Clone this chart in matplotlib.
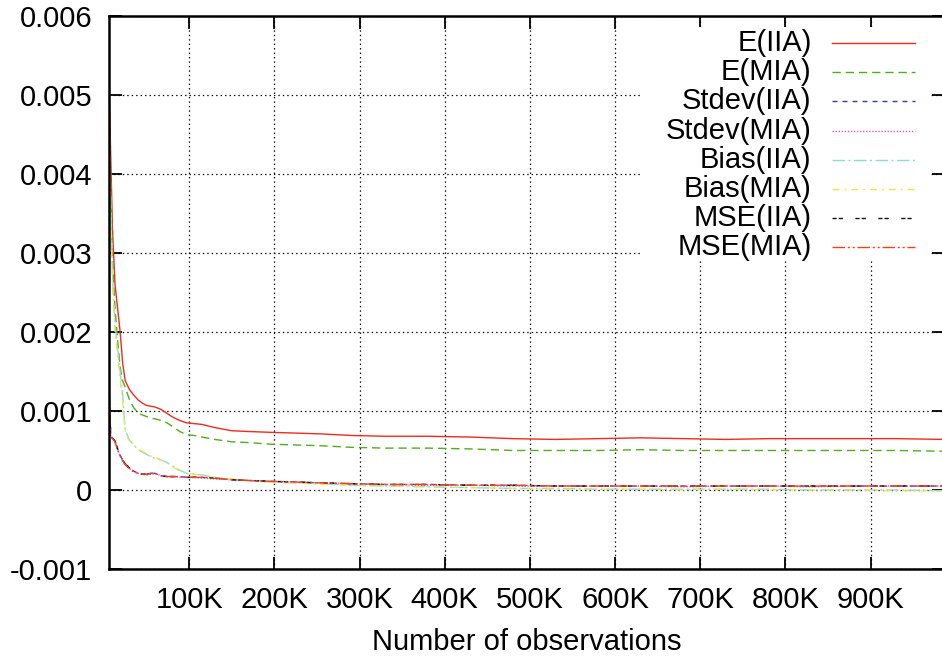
import matplotlib
matplotlib.use("Agg")
import matplotlib.pyplot as plt
from matplotlib.patches import Rectangle
from matplotlib.lines import Line2D

plt.rcParams['font.family'] = ['Liberation Sans', 'DejaVu Sans']
plt.rcParams['lines.scale_dashes'] = False

# number of observations (thousands)
obs_k = [6, 8, 10, 13, 16, 19, 22, 25, 30, 35, 40, 45, 50, 55, 60, 67, 74, 81, 89, 97,
         106, 115, 130, 150, 170, 195, 225, 255, 290, 330, 380, 430, 480, 530, 580,
         630, 680, 730, 780, 830, 880, 930, 986]

e_iia = [0.0051, 0.0042, 0.0033, 0.0026, 0.0023, 0.0020, 0.0016, 0.00138, 0.00127, 0.0012,
         0.00114, 0.0011, 0.00107, 0.00106, 0.00105, 0.00102, 0.00097, 0.00092, 0.00088, 0.00085,
         0.00084, 0.00083, 0.00079, 0.00075, 0.00074, 0.00073, 0.00072, 0.00071, 0.00069, 0.00068,
         0.00068, 0.00067, 0.00065, 0.00064, 0.00065, 0.00066, 0.00065, 0.00064, 0.00065, 0.00065,
         0.00065, 0.00065, 0.00064]
e_mia = [0.0049, 0.0039, 0.0029, 0.0023, 0.0019, 0.00155, 0.00138, 0.0013, 0.00114, 0.00104,
         0.00098, 0.00095, 0.00093, 0.00091, 0.0009, 0.00088, 0.00085, 0.0008, 0.00074, 0.0007,
         0.00069, 0.00067, 0.00064, 0.00061, 0.0006, 0.00058, 0.00057, 0.00056, 0.00054, 0.00053,
         0.00053, 0.00052, 0.0005, 0.0005, 0.0005, 0.00051, 0.0005, 0.0005, 0.0005, 0.0005,
         0.0005, 0.0005, 0.00049]
sd_iia = [0.0013, 0.00068, 0.00066, 0.00062, 0.00052, 0.00044, 0.00038, 0.00033, 0.00028, 0.00024,
          0.00021, 0.0002, 0.0002, 0.00021, 0.00021, 0.00018, 0.00017, 0.00017, 0.00017, 0.00016,
          0.00016, 0.00016, 0.00015, 0.00013, 0.00012, 0.00011, 0.0001, 0.00009, 0.00008, 0.00007,
          0.00007, 0.00006, 0.00006, 0.00005, 0.00005, 0.00005, 0.00005, 0.00005, 0.00005, 0.00005,
          0.00005, 0.00005, 0.00005]
sd_mia = [0.0012, 0.00067, 0.00065, 0.00061, 0.00051, 0.00043, 0.00037, 0.00032, 0.00027, 0.00023,
          0.00021, 0.0002, 0.00019, 0.0002, 0.00021, 0.00018, 0.00017, 0.00017, 0.00016, 0.00016,
          0.00016, 0.00015, 0.00014, 0.00013, 0.00012, 0.00011, 0.0001, 0.00009, 0.00008, 0.00007,
          0.00006, 0.00006, 0.00005, 0.00005, 0.00005, 0.00005, 0.00004, 0.00005, 0.00005, 0.00004,
          0.00005, 0.00005, 0.00005]
bias_iia = [0.0048, 0.0036, 0.0027, 0.0021, 0.0018, 0.0015, 0.0012, 0.00075, 0.00063, 0.00057,
            0.00051, 0.00048, 0.00045, 0.00042, 0.0004, 0.00038, 0.00035, 0.0003, 0.00025, 0.00021,
            0.0002, 0.00019, 0.00016, 0.00013, 0.00012, 0.0001, 0.00009, 0.00008, 0.00006, 0.00005,
            0.00004, 0.00003, 0.00002, 0.00002, 0.00001, 0.00001, 0.00001, 0.00001, 0.00001, 0.0,
            0.0, 0.0, -0.00001]
bias_mia = [0.0047, 0.0035, 0.0026, 0.0020, 0.0017, 0.0014, 0.0011, 0.00072, 0.00062, 0.00056,
            0.00052, 0.00049, 0.00046, 0.00043, 0.00041, 0.00038, 0.00034, 0.00029, 0.00024, 0.00021,
            0.0002, 0.00018, 0.00016, 0.00014, 0.00012, 0.0001, 0.00009, 0.00007, 0.00006, 0.00005,
            0.00004, 0.00003, 0.00002, 0.00001, 0.00001, 0.00001, 0.0, 0.00001, 0.0, 0.0,
            0.0, -0.00001, -0.00001]
mse_iia = [0.0012, 0.00068, 0.00066, 0.00062, 0.00052, 0.00044, 0.00038, 0.00033, 0.00028, 0.00024,
           0.00021, 0.0002, 0.0002, 0.00021, 0.0002, 0.00018, 0.00017, 0.00017, 0.00017, 0.00016,
           0.00016, 0.00016, 0.00015, 0.00013, 0.00012, 0.00011, 0.0001, 0.00009, 0.00008, 0.00007,
           0.00007, 0.00006, 0.00006, 0.00005, 0.00005, 0.00005, 0.00005, 0.00005, 0.00005, 0.00005,
           0.00005, 0.00005, 0.00005]
mse_mia = [0.0013, 0.00067, 0.00065, 0.00061, 0.00051, 0.00043, 0.00037, 0.00032, 0.00027, 0.00023,
           0.00021, 0.0002, 0.0002, 0.00021, 0.00021, 0.00018, 0.00017, 0.00017, 0.00017, 0.00016,
           0.00016, 0.00016, 0.00015, 0.00013, 0.00012, 0.00011, 0.0001, 0.00009, 0.00008, 0.00007,
           0.00007, 0.00006, 0.00006, 0.00005, 0.00005, 0.00005, 0.00005, 0.00005, 0.00005, 0.00005,
           0.00005, 0.00005, 0.00005]

labels = ['E(IIA)', 'E(MIA)', 'Stdev(IIA)', 'Stdev(MIA)', 'Bias(IIA)', 'Bias(MIA)', 'MSE(IIA)', 'MSE(MIA)']
series = [e_iia, e_mia, sd_iia, sd_mia, bias_iia, bias_mia, mse_iia, mse_mia]
colors = ['#f22a1e', '#4fae1e', '#3a3aa8', '#d85cc8', '#8adada', '#e8e84a', '#111111', '#f0401c']
styles = ['-', (0, (6, 3.5)), (0, (3.6, 3.6)), (0, (1, 1.2)), (0, (9, 2.5, 1.5, 2.5)),
          (0, (5, 3.5, 1.5, 3.5)), (0, (3, 1.5, 3, 9)), (0, (9, 2, 1.5, 2, 1.5, 2))]

xticks = [100, 200, 300, 400, 500, 600, 700, 800, 900]
xtick_labels = ['100K', '200K', '300K', '400K', '500K', '600K', '700K', '800K', '900K']
yticks = [-0.001, 0, 0.001, 0.002, 0.003, 0.004, 0.005, 0.006]
ytick_labels = ['-0.001', '0', '0.001', '0.002', '0.003', '0.004', '0.005', '0.006']

fs = 21

fig = plt.figure(figsize=(9.42, 6.6), dpi=100)
ax = fig.add_axes([0.1157, 0.1379, 0.8863, 0.8379])

for vals, lab, c, ls in zip(series, labels, colors, styles):
    ax.plot(obs_k, vals, color=c, linestyle=ls, linewidth=1.0, label=lab, zorder=2)

ax.set_xlim(5.9, 986)
ax.set_ylim(-0.001, 0.006)
ax.set_xticks(xticks)
ax.set_xticklabels(xtick_labels)
ax.set_yticks(yticks)
ax.set_yticklabels(ytick_labels)
ax.tick_params(direction='in', length=9, width=1.3, top=True, right=True, labelsize=fs)
ax.tick_params(axis='x', pad=12)
ax.tick_params(axis='y', pad=12)
ax.grid(True, color='black', linestyle=(0, (1, 2.2)), linewidth=0.9)
for s in ax.spines.values():
    s.set_linewidth(1.8)

ax.set_xlabel('Number of observations', fontsize=fs, labelpad=10)

# gnuplot-style key: white box, right aligned labels, samples to the right
ax.add_patch(Rectangle((0.6375, 0.559), 0.346, 0.421, transform=ax.transAxes,
                       facecolor='white', edgecolor='none', zorder=3))
for i, (lab, c, ls) in enumerate(zip(labels, colors, styles)):
    yy = 0.951 - i * 0.0527
    ax.text(0.8415, yy, lab, transform=ax.transAxes, ha='right', va='center',
            fontsize=fs, zorder=4)
    ax.add_line(Line2D([0.8655, 0.9652], [yy, yy], transform=ax.transAxes,
                       color=c, linestyle=ls, linewidth=1.0, zorder=4))

fig.savefig('out.png', dpi=100)
